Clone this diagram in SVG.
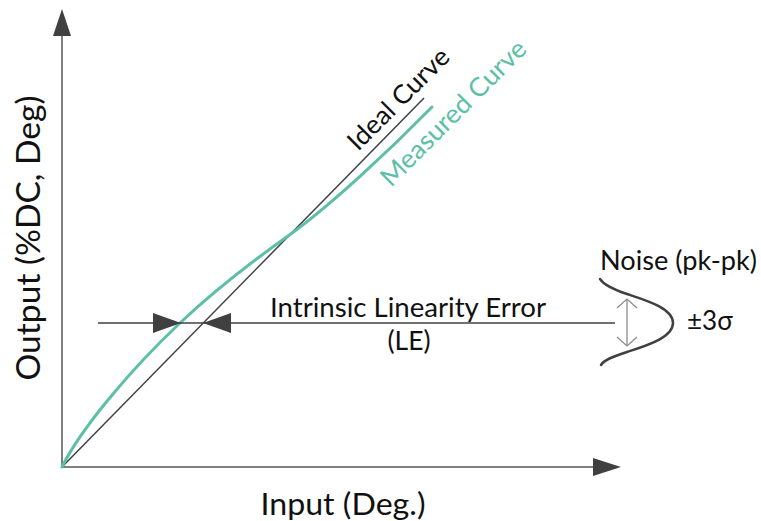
<svg xmlns="http://www.w3.org/2000/svg" width="761" height="521" viewBox="0 0 761 521">
<style>
.axis{stroke:#7f7f7f;stroke-width:2;fill:none}
.head{fill:#404040;stroke:none}
.ideal{stroke:#404040;stroke-width:1.5;fill:none}
.meas{stroke:#5cbfa6;stroke-width:3;fill:none;stroke-linecap:round;stroke-linejoin:round}
.thin{stroke:#404040;stroke-width:1.3;fill:none}
.bell{stroke:#404040;stroke-width:2.5;fill:none;stroke-linecap:round}
.dbl{stroke:#8c8c8c;stroke-width:1.3;fill:none}
.t{font-family:Lato,"Open Sans","Liberation Sans",sans-serif;fill:#111}
.g{fill:#5cbfa6}
</style>
<rect width="761" height="521" fill="#ffffff"/>
<g id="axes">
<line class="axis" x1="62" y1="467" x2="62" y2="30"/>
<polygon class="head" points="62,9 53,36 71,36"/>
<line class="axis" x1="62" y1="467" x2="600" y2="467"/>
<polygon class="head" points="621,467 593,458 593,476"/>
</g>
<g id="curves">
<line id="ideal-curve" class="ideal" x1="62" y1="467" x2="424" y2="98"/>
<path id="measured-curve" class="meas" d="M62,467 C80,430 130,370 180,323 C216,289 250,263 288,236 C330,206 390,150 432,107"/>
</g>
<g id="linearity-error">
<line class="thin" x1="98" y1="323" x2="615" y2="323"/>
<polygon class="head" points="153,313 153,333 181,323"/>
<polygon class="head" points="231,313 231,333 203,323"/>
</g>
<g id="noise">
<path class="bell" d="M600,279 C604,285 612,289 627,294 C645,300 673,308 673,323 C673,338 645,346 627,352 C612,357 604,360 601,365"/>
<line class="dbl" x1="627" y1="299" x2="627" y2="346"/>
<polyline class="dbl" points="617,308 627,299 637,308"/>
<polyline class="dbl" points="617,337 627,346 637,337"/>
</g>
<g id="labels">
<text class="t" x="40" y="238" font-size="33" text-anchor="middle" transform="rotate(-90 40 238)" textLength="285" lengthAdjust="spacingAndGlyphs">Output (%DC, Deg)</text>
<text class="t" x="343" y="515" font-size="31" text-anchor="middle" textLength="165" lengthAdjust="spacingAndGlyphs">Input (Deg.)</text>
<text class="t" x="408" y="317" font-size="26.5" text-anchor="middle" textLength="276" lengthAdjust="spacingAndGlyphs">Intrinsic Linearity Error</text>
<text class="t" x="409" y="350" font-size="26.5" text-anchor="middle">(LE)</text>
<text class="t" x="600" y="270" font-size="26" textLength="157" lengthAdjust="spacingAndGlyphs">Noise (pk-pk)</text>
<text class="t" x="687" y="330" font-size="26">±3σ</text>
<text class="t" x="358" y="152" font-size="26" transform="rotate(-45 358 152)" textLength="132" lengthAdjust="spacingAndGlyphs">Ideal Curve</text>
<text class="t g" x="391" y="188" font-size="26" transform="rotate(-45 391 188)" textLength="194" lengthAdjust="spacingAndGlyphs">Measured Curve</text>
</g>
</svg>
